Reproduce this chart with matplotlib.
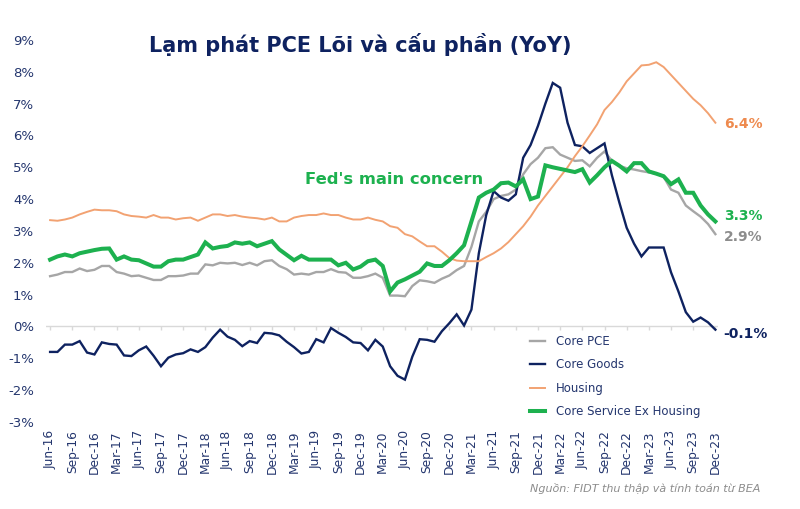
import numpy as np
import pandas as pd
import matplotlib
matplotlib.use("Agg")
import matplotlib.pyplot as plt

# thang: Jun-2016 .. Dec-2023
months = pd.date_range("2016-06-01", periods=91, freq="MS")

core_pce = [
    1.58, 1.63, 1.71, 1.71, 1.82, 1.74, 1.78, 1.90, 1.90, 1.71,
    1.66, 1.58, 1.60, 1.53, 1.46, 1.46, 1.58, 1.58, 1.60, 1.66,
    1.66, 1.95, 1.92, 2.00, 1.98, 2.00, 1.93, 2.00, 1.92, 2.05,
    2.08, 1.90, 1.80, 1.63, 1.66, 1.63, 1.71, 1.71, 1.80, 1.71,
    1.69, 1.53, 1.53, 1.58, 1.66, 1.53, 0.97, 0.97, 0.95, 1.27,
    1.45, 1.42, 1.37, 1.50, 1.60, 1.77, 1.90, 2.50, 3.30, 3.60,
    4.00, 4.10, 4.15, 4.30, 4.78, 5.10, 5.30, 5.60, 5.63, 5.40,
    5.30, 5.20, 5.22, 5.03, 5.30, 5.50, 5.20, 5.05, 4.97, 4.93,
    4.88, 4.84, 4.80, 4.70, 4.30, 4.20, 3.80, 3.62, 3.45, 3.22,
    2.90,
]

core_goods = [
    -0.80, -0.80, -0.57, -0.57, -0.46, -0.82, -0.88, -0.50, -0.55, -0.57,
    -0.91, -0.93, -0.75, -0.63, -0.92, -1.25, -0.98, -0.88, -0.84, -0.72,
    -0.80, -0.65, -0.35, -0.10, -0.32, -0.42, -0.62, -0.46, -0.52, -0.20,
    -0.22, -0.28, -0.48, -0.65, -0.85, -0.80, -0.40, -0.50, -0.05, -0.20,
    -0.33, -0.50, -0.52, -0.75, -0.42, -0.63, -1.25, -1.55, -1.67, -0.95,
    -0.40, -0.42, -0.48, -0.15, 0.10, 0.38, 0.03, 0.53, 2.30, 3.50,
    4.25, 4.05, 3.95, 4.15, 5.30, 5.70, 6.30, 7.00, 7.65, 7.50,
    6.40, 5.70, 5.66, 5.45, 5.60, 5.75, 4.75, 3.90, 3.10, 2.60,
    2.20, 2.48, 2.48, 2.48, 1.70, 1.10, 0.45, 0.15, 0.28, 0.13,
    -0.10,
]

housing = [
    3.34, 3.32, 3.36, 3.42, 3.52, 3.60, 3.67, 3.65, 3.65, 3.62,
    3.52, 3.47, 3.45, 3.42, 3.50, 3.42, 3.42, 3.36, 3.40, 3.42,
    3.32, 3.42, 3.52, 3.52, 3.47, 3.50, 3.45, 3.42, 3.40, 3.36,
    3.42, 3.30, 3.30, 3.42, 3.47, 3.50, 3.50, 3.55, 3.50, 3.50,
    3.42, 3.36, 3.36, 3.42, 3.35, 3.30, 3.15, 3.10, 2.90, 2.83,
    2.67, 2.52, 2.52, 2.35, 2.15, 2.07, 2.05, 2.05, 2.05, 2.18,
    2.30, 2.45, 2.65, 2.90, 3.15, 3.45, 3.80, 4.10, 4.40, 4.70,
    5.00, 5.35, 5.66, 6.00, 6.35, 6.80, 7.05, 7.35, 7.70, 7.95,
    8.20, 8.22, 8.30, 8.15, 7.90, 7.65, 7.40, 7.15, 6.95, 6.70,
    6.40,
]

core_svc_ex_housing = [
    2.10, 2.20, 2.26, 2.20, 2.30, 2.35, 2.40, 2.44, 2.45, 2.10,
    2.20, 2.10, 2.08, 1.98, 1.88, 1.88, 2.05, 2.10, 2.10, 2.18,
    2.26, 2.64, 2.45, 2.50, 2.53, 2.64, 2.60, 2.64, 2.52, 2.60,
    2.68, 2.42, 2.25, 2.08, 2.22, 2.10, 2.10, 2.10, 2.10, 1.92,
    2.00, 1.79, 1.88, 2.05, 2.10, 1.90, 1.10, 1.38, 1.48, 1.60,
    1.72, 1.98, 1.90, 1.90, 2.08, 2.30, 2.55, 3.30, 4.05, 4.20,
    4.30, 4.50, 4.52, 4.40, 4.62, 4.00, 4.08, 5.06, 5.00, 4.95,
    4.90, 4.85, 4.94, 4.52, 4.75, 5.00, 5.20, 5.05, 4.87, 5.13,
    5.13, 4.87, 4.80, 4.72, 4.47, 4.62, 4.20, 4.20, 3.80, 3.52,
    3.30,
]

series_names = ["Core PCE", "Core Goods", "Housing", "Core Service Ex Housing"]
series_colors = ["#a6a6a6", "#0e2260", "#f2a272", "#1db14f"]
end_label_colors = ["#8c8c8c", "#0e2260", "#ee8a4e", "#1db14f"]
navy_text = "#24366e"

x = np.arange(len(months))
tick_idx = x[::3]
tick_labels = [m.strftime("%b-%y") for m in months[::3]]

fig = plt.figure(figsize=(8, 5.09), dpi=100)
ax = fig.add_axes([0.058, 0.171, 0.839, 0.7505])

data = [core_pce, core_goods, housing, core_svc_ex_housing]
widths = [1.7, 1.7, 1.4, 2.9]
for vals, name, col, lw in zip(data, series_names, series_colors, widths):
    ax.plot(x, vals, color=col, lw=lw, label=name, solid_joinstyle="miter")

ax.set_xlim(-0.5, 90.3)
ax.set_ylim(-3, 9)
ax.set_yticks(np.arange(-3, 10, 1))
ax.set_yticklabels([f"{v}%" for v in range(-3, 10)])
ax.set_xticks(tick_idx)
ax.set_xticklabels(tick_labels, rotation=90)
ax.tick_params(axis="y", length=0, pad=9, labelsize=9.5, labelcolor=navy_text)
ax.tick_params(axis="x", length=0, pad=6, labelsize=8.8, labelcolor=navy_text)
for s in ax.spines.values():
    s.set_visible(False)

# truc 0% va vach chia
ax.axhline(0, color="#d9d9d9", lw=1, zorder=0)
ax.vlines(tick_idx, -0.12, 0, color="#d9d9d9", lw=1, zorder=0)

# nhan cuoi duong
offsets = [(6, -2), (6, -3), (6, -1), (6, 4)]
for vals, col, off in zip(data, end_label_colors, offsets):
    ax.annotate(f"{vals[-1]:.1f}%", xy=(x[-1], vals[-1]), xytext=off,
                textcoords="offset points", color=col, fontsize=10,
                fontweight="bold", va="center", ha="left")

ax.text(0.3855, 0.6335, "Fed's main concern", transform=ax.transAxes,
        color="#1db14f", fontsize=11.8, fontweight="bold", va="center")

leg = ax.legend(loc="upper left", bbox_to_anchor=(0.662, 1 - 335 / 509),
                bbox_transform=fig.transFigure, frameon=False, fontsize=8.5,
                handlelength=1.3, handletextpad=0.9, labelspacing=0.88,
                borderpad=0, borderaxespad=0)
for t in leg.get_texts():
    t.set_color(navy_text)

fig.text(0.45, 1 - 45 / 509, "Lạm phát PCE Lõi và cấu phần (YoY)", ha="center",
         va="center", fontsize=15, fontweight="bold", color="#0e2260")
fig.text(0.951, 1 - 488 / 509, "Nguồn: FIDT thu thập và tính toán từ BEA",
         ha="right", va="center", fontsize=8, style="italic", color="#8c8c8c")

fig.savefig("out.png", dpi=100)
